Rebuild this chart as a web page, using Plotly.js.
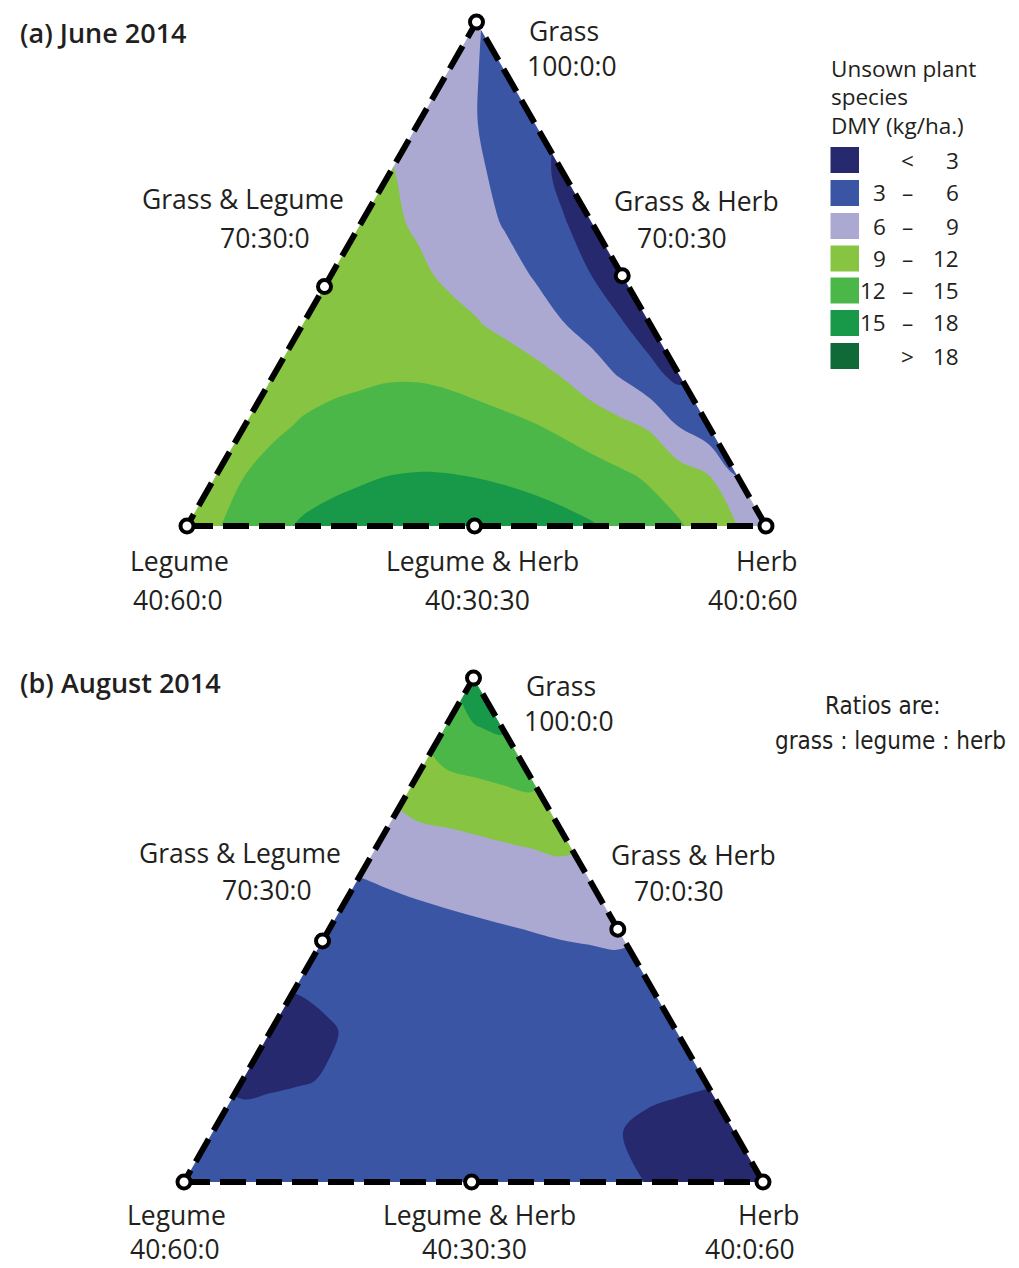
<!DOCTYPE html>
<html>
<head>
<meta charset="utf-8">
<script src="https://cdn.plot.ly/plotly-3.0.1.min.js"></script>
<style>html,body{margin:0;padding:0;background:#fff}#chart{width:1019px;height:1268px}</style>
</head>
<body>
<div id="chart"></div>
<script>
// ---------------- DATA ----------------
// Ternary lattice: rows of constant grass share (%); along a row the herb share rises in 3 % steps
// from herb 0 (legume-rich side) to herb = 100 - grass (legume 0).
const grassLevels = [40, 46, 52, 58, 64, 70, 76, 82, 88, 94, 100];
const herbStep = 3;

// Unsown plant species DMY (kg/ha) (a) June 2014
const dmyJune = [
  [11.2, 11.8, 12.9, 14.2, 15.4, 16.1, 16.6, 17.0, 17.2, 17.2, 17.0, 16.7, 16.3, 15.8, 15.2, 14.4, 13.3, 12.3, 10.8, 9.0, 7.5],
  [11.2, 12.0, 12.8, 13.5, 14.1, 14.6, 15.0, 15.15, 15.1, 14.9, 14.6, 14.2, 13.7, 13.1, 12.4, 11.6, 10.3, 9.1, 6.0],
  [11.0, 11.6, 12.2, 12.6, 12.9, 13.1, 13.1, 13.0, 12.8, 12.5, 12.1, 11.4, 10.5, 9.6, 8.6, 5.8, 4.2],
  [10.8, 11.1, 11.4, 11.6, 11.8, 11.8, 11.6, 11.2, 10.7, 9.9, 8.8, 7.3, 5.7, 3.7, 2.3],
  [10.5, 10.7, 10.7, 10.6, 10.3, 9.8, 9.2, 8.3, 7.2, 6.1, 4.8, 3.2, 1.8],
  [10.2, 10.1, 9.9, 9.4, 8.6, 7.8, 6.9, 5.8, 4.5, 2.9, 1.5],
  [9.8, 9.4, 8.7, 7.8, 6.9, 5.8, 4.7, 3.2, 1.8],
  [9.15, 8.4, 7.5, 6.4, 5.3, 4.0, 2.3],
  [8.0, 7.0, 6.05, 4.9, 3.3],
  [7.2, 6.1, 4.8],
  [6.2]
];

// Unsown plant species DMY (kg/ha) (b) August 2014
const dmyAugust = [
  [4.2, 4.35, 4.5, 4.6, 4.7, 4.75, 4.8, 4.8, 4.8, 4.75, 4.7, 4.55, 4.4, 4.1, 3.8, 3.4, 2.95, 2.5, 2.2, 2.0, 1.8],
  [3.8, 4.1, 4.3, 4.45, 4.55, 4.65, 4.7, 4.7, 4.7, 4.6, 4.5, 4.3, 4.0, 3.6, 3.1, 2.5, 2.2, 2.0, 1.9],
  [2.4, 2.6, 2.85, 3.15, 3.8, 4.1, 4.3, 4.4, 4.4, 4.3, 4.2, 4.05, 3.9, 3.75, 3.6, 3.4, 3.2],
  [2.0, 2.3, 2.8, 3.4, 3.8, 4.05, 4.2, 4.3, 4.3, 4.25, 4.2, 4.1, 4.0, 3.9, 3.8],
  [3.3, 3.6, 3.9, 4.15, 4.4, 4.5, 4.6, 4.65, 4.7, 4.75, 4.8, 4.9, 5.0],
  [4.3, 4.55, 4.8, 5.05, 5.3, 5.55, 5.8, 6.05, 6.3, 6.5, 6.7],
  [5.9, 6.25, 6.6, 6.9, 7.2, 7.5, 7.8, 8.15, 8.5],
  [8.3, 8.6, 8.9, 9.2, 9.5, 9.75, 10.0],
  [10.9, 11.4, 11.9, 12.35, 12.8],
  [14.2, 14.8, 15.4],
  [16.8]
];

// Contour bands
const bandStart = 3, bandEnd = 18, bandSize = 3;
const bandColors = ['#27296f', '#3a55a4', '#aba9d2', '#86c442', '#4bb748', '#18994a', '#106a37'];
const bandLow  = ['',  '3', '6', '9', '12', '15', ''];
const bandSym  = ['<', '–', '–', '–', '–',  '–',  '>'];
const bandHigh = ['3', '6', '9', '12', '15', '18', '18'];
const legendTitle = ['Unsown plant', 'species', 'DMY (kg/ha.)'];

// Reference points: names, ratio labels and marked compositions (grass, legume, herb %)
const pointNames  = ['Grass', 'Grass & Legume', 'Grass & Herb', 'Legume', 'Legume & Herb', 'Herb'];
const pointRatios = ['100:0:0', '70:30:0', '70:0:30', '40:60:0', '40:30:30', '40:0:60'];
const markGrassA  = [100, 68.5, 69.8, 40, 40, 40];
const markLegumeA = [0, 31.5, 0, 60, 30.2, 0];
const markHerbA   = [0, 0, 30.2, 0, 29.8, 60];
const markGrassB  = [100, 68.7, 70.1, 40, 40, 40];
const markLegumeB = [0, 31.3, 0, 60, 30.2, 0];
const markHerbB   = [0, 0, 29.9, 0, 29.8, 60];

const panelTitles = ['(a) June 2014', '(b) August 2014'];
const noteLines = ['Ratios are:', 'grass : legume : herb'];

// ---------------- HELPERS ----------------
const W = 1019, H = 1268;
const r4 = v => Math.round(v * 10000) / 10000;
// composition -> cartesian (legume corner at 0,0; herb corner at 1,0; grass corner at 0.5,1)
function toX(g, l, h) { return r4(h / 60 + (g - 40) / 120); }
function toY(g, l, h) { return r4((g - 40) / 60); }

function latticeXYZ(rows) {
  const x = [], y = [], z = [];
  rows.forEach((row, i) => {
    const g = grassLevels[i];
    row.forEach((v, k) => {
      const h = k * herbStep, l = 100 - g - h;
      x.push(toX(g, l, h)); y.push(toY(g, l, h)); z.push(v);
    });
  });
  return {x, y, z};
}

const colorscale = [
  [0, bandColors[0]], [1/6, bandColors[0]],
  [1/6, bandColors[1]], [2/6, bandColors[1]],
  [2/6, bandColors[2]], [3/6, bandColors[2]],
  [3/6, bandColors[3]], [4/6, bandColors[3]],
  [4/6, bandColors[4]], [5/6, bandColors[4]],
  [5/6, bandColors[5]], [0.96, bandColors[5]],
  [0.96, bandColors[6]], [1, bandColors[6]]
];

function panelTraces(rows, mg, ml, mh, xa, ya) {
  const d = latticeXYZ(rows);
  const vL = [toX(40, 60, 0), toY(40, 60, 0)];
  const vH = [toX(40, 0, 60), toY(40, 0, 60)];
  const vG = [toX(100, 0, 0), toY(100, 0, 0)];
  const e = 0.12;
  const traces = [];
  traces.push({
    type: 'contour', x: d.x, y: d.y, z: d.z, xaxis: xa, yaxis: ya,
    autocontour: false,
    contours: {start: bandStart, end: bandEnd, size: bandSize, coloring: 'fill', showlines: false},
    line: {width: 0, smoothing: 1},
    colorscale: colorscale, showscale: false, hoverinfo: 'skip', connectgaps: true
  });
  // white masks outside the triangle
  traces.push({
    type: 'scatter', mode: 'lines', xaxis: xa, yaxis: ya, hoverinfo: 'skip',
    x: [vL[0], vG[0], vG[0], vL[0] - e, vL[0] - e, vL[0]],
    y: [vL[1], vG[1], vG[1] + e, vG[1] + e, vL[1] - 0.002, vL[1]],
    fill: 'toself', fillcolor: '#ffffff', line: {width: 0, color: '#ffffff'}
  });
  traces.push({
    type: 'scatter', mode: 'lines', xaxis: xa, yaxis: ya, hoverinfo: 'skip',
    x: [vH[0], vG[0], vG[0], vH[0] + e, vH[0] + e, vH[0]],
    y: [vH[1], vG[1], vG[1] + e, vG[1] + e, vH[1] - 0.002, vH[1]],
    fill: 'toself', fillcolor: '#ffffff', line: {width: 0, color: '#ffffff'}
  });
  // dashed outline
  traces.push({
    type: 'scatter', mode: 'lines', xaxis: xa, yaxis: ya, hoverinfo: 'skip',
    x: [vL[0], vH[0], vG[0], vL[0]], y: [vL[1], vH[1], vG[1], vL[1]],
    line: {color: '#000000', width: 6, dash: '26px,10px'}
  });
  // reference markers
  traces.push({
    type: 'scatter', mode: 'markers', xaxis: xa, yaxis: ya, hoverinfo: 'skip',
    x: mg.map((g, i) => toX(g, ml[i], mh[i])),
    y: mg.map((g, i) => toY(g, ml[i], mh[i])),
    marker: {size: 13, color: '#ffffff', line: {color: '#000000', width: 4}}
  });
  return traces;
}

const data = [].concat(
  panelTraces(dmyJune, markGrassA, markLegumeA, markHerbA, 'x', 'y'),
  panelTraces(dmyAugust, markGrassB, markLegumeB, markHerbB, 'x2', 'y2')
);

// ---------------- LAYOUT ----------------
const FONT = '"Open Sans", "Noto Sans", sans-serif';
const TXT = '#231f20';
const annotations = [];
const shapes = [];
function ann(text, px, py, xanchor, size, family, weight) {
  annotations.push({
    text: text, x: px / W, y: 1 - py / H, xref: 'paper', yref: 'paper',
    xanchor: xanchor, yanchor: 'middle', showarrow: false,
    font: {family: family || FONT, size: size, color: TXT, weight: weight || 400}
  });
}

// label positions [name x, name y, name anchor, ratio x, ratio y, ratio anchor] in px
const labelPosA = [
  [527, 31, 'left', 525, 66, 'left'],
  [243, 199, 'center', 265, 238, 'center'],
  [696, 201, 'center', 682, 238, 'center'],
  [179, 561, 'center', 178, 600, 'center'],
  [482, 561, 'center', 477, 600, 'center'],
  [766, 561, 'center', 753, 600, 'center']
];
const labelPosB = [
  [524, 686, 'left', 522, 721, 'left'],
  [240, 853, 'center', 267, 890, 'center'],
  [693, 855, 'center', 679, 891, 'center'],
  [176, 1215, 'center', 175, 1249, 'center'],
  [479, 1215, 'center', 474, 1249, 'center'],
  [768, 1215, 'center', 750, 1249, 'center']
];
const LS = 26.5;
[labelPosA, labelPosB].forEach(pos => {
  pos.forEach((p, i) => {
    ann(pointNames[i], p[0], p[1], p[2], LS);
    ann(pointRatios[i], p[3], p[4], p[5], LS);
  });
});
ann(panelTitles[0], 18, 33, 'left', 27, FONT, 600);
ann(panelTitles[1], 18, 682, 'left', 27, FONT, 600);

const NARROW = '"Liberation Sans Narrow", "DejaVu Sans Condensed", "Roboto", sans-serif';
ann(noteLines[0], 883, 706, 'center', 24, NARROW);
ann(noteLines[1], 890, 741, 'center', 24, NARROW);

// legend
const LG = 22.5;
const titleY = [68, 97, 125];
legendTitle.forEach((t, i) => ann(t, 829, titleY[i], 'left', LG));
const rowY = [160, 193, 226, 258.5, 290.5, 323, 356];
bandColors.forEach((c, i) => {
  shapes.push({
    type: 'rect', xref: 'paper', yref: 'paper',
    x0: 830.5 / W, x1: 859 / W, y0: 1 - (rowY[i] - 13) / H, y1: 1 - (rowY[i] + 13) / H,
    fillcolor: c, line: {width: 0}
  });
  if (bandLow[i]) ann(bandLow[i], 888, rowY[i], 'right', LG);
  ann(bandSym[i], 907, rowY[i], 'center', LG);
  ann(bandHigh[i], 961, rowY[i], 'right', LG);
});

const hidden = {visible: false, fixedrange: true};
const layout = {
  width: W, height: H,
  margin: {l: 0, r: 0, t: 0, b: 0, pad: 0},
  paper_bgcolor: '#ffffff', plot_bgcolor: 'rgba(0,0,0,0)',
  showlegend: false,
  xaxis: Object.assign({domain: [0, 1], range: [-187 / 579, (W - 187) / 579], anchor: 'y'}, hidden),
  yaxis: Object.assign({domain: [0.5, 1], range: [-(634 - 526) / 504, 1 + 22 / 504], anchor: 'x'}, hidden),
  xaxis2: Object.assign({domain: [0, 1], range: [-184 / 579, (W - 184) / 579], anchor: 'y2'}, hidden),
  yaxis2: Object.assign({domain: [0, 0.5], range: [-(1268 - 1182) / 504, 1 + (678 - 634) / 504], anchor: 'x2'}, hidden),
  annotations: annotations,
  shapes: shapes
};

Plotly.newPlot('chart', data, layout, {staticPlot: true, displayModeBar: false});
</script>
</body>
</html>
